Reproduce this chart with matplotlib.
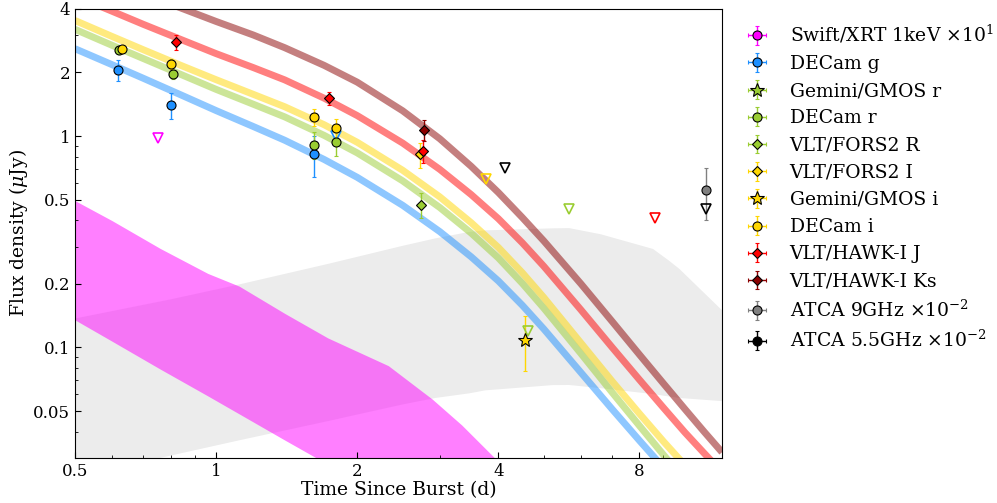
import numpy as np
import matplotlib
matplotlib.use("Agg")
import matplotlib.pyplot as plt
from matplotlib.ticker import NullFormatter

plt.rcParams['font.family'] = ['DejaVu Serif']
plt.rcParams['mathtext.fontset'] = 'dejavuserif'
plt.rcParams['font.size'] = 12

# ---- detections (t in days, flux in uJy, 1-sigma error) ----
decam_g_t = [0.618, 0.80, 1.62]
decam_g_f = [2.06, 1.40, 0.82]
decam_g_e = [0.23, 0.19, 0.18]

decam_r_t = [0.62, 0.81, 1.62, 1.80]
decam_r_f = [2.54, 1.96, 0.91, 0.937]
decam_r_e = [0.10, 0.10, 0.13, 0.13]

decam_i_t = [0.63, 0.80, 1.62, 1.80]
decam_i_f = [2.58, 2.19, 1.23, 1.095]
decam_i_e = [0.10, 0.12, 0.11, 0.11]

fors_R_t, fors_R_f, fors_R_e = [2.74], [0.473], [0.065]
fors_I_t, fors_I_f, fors_I_e = [2.72], [0.82], [0.11]
gmos_i_t, gmos_i_f, gmos_i_e = [4.57], [0.109], [0.032]

hawk_J_t = [0.82, 1.74, 2.76]
hawk_J_f = [2.78, 1.51, 0.852]
hawk_J_e = [0.22, 0.10, 0.11]

hawk_K_t, hawk_K_f, hawk_K_e = [2.78], [1.07], [0.12]
atca9_t, atca9_f, atca9_e = [11.1], [0.555], [0.155]
t_err = 0.01

# ---- upper limits ----
ul_swift_t, ul_swift_f = [0.75], [0.98]
ul_g_t, ul_g_f = [1.80], [1.0]
ul_i_t, ul_i_f = [3.76], [0.625]
ul_gmos_r_t, ul_gmos_r_f = [4.62], [0.12]
ul_r_t, ul_r_f = [5.67], [0.45]
ul_J_t, ul_J_f = [8.65], [0.409]
ul_atca55_t, ul_atca55_f = [4.13, 11.1], [0.705, 0.454]

# ---- kilonova model curves ----
model_t = [0.5, 0.6, 0.7, 0.85, 1.0, 1.2, 1.4, 1.7, 2.0, 2.5, 3.0, 3.5, 4.0, 4.5, 5.0,
           6.0, 7.0, 8.0, 9.0, 10, 11, 12]
blue_f = [2.59, 2.176, 1.875, 1.550, 1.320, 1.110, 0.956, 0.775, 0.638, 0.4704, 0.3532,
          0.2684, 0.2064, 0.1583, 0.1223, 0.0761, 0.05097, 0.03626, 0.02701, 0.02086,
          0.0166, 0.01353]
green_f = [3.199, 2.687, 2.325, 1.9375, 1.663, 1.415, 1.233, 1.0075, 0.8326, 0.6139,
           0.4592, 0.3476, 0.2652, 0.2010, 0.1535, 0.0936, 0.06116, 0.0426, 0.03106,
           0.02357, 0.01851, 0.01488]
yellow_f = [3.522, 2.959, 2.559, 2.139, 1.848, 1.576, 1.377, 1.1315, 0.9347, 0.6891,
            0.5157, 0.3892, 0.2972, 0.2256, 0.1724, 0.1050, 0.06906, 0.04859, 0.03592,
            0.02774, 0.02208, 0.0180]
red_f = [4.610, 3.895, 3.375, 2.837, 2.455, 2.109, 1.845, 1.511, 1.250, 0.9267, 0.6958,
         0.5287, 0.4066, 0.3126, 0.2422, 0.1507, 0.0999, 0.07034, 0.05186, 0.03963,
         0.03154, 0.02571]
brown_f = [6.346, 5.396, 4.725, 3.999, 3.485, 3.008, 2.62, 2.16, 1.799, 1.317, 0.9713,
           0.7193, 0.5408, 0.4116, 0.3192, 0.2001, 0.1325, 0.09246, 0.06753, 0.05111,
           0.03984, 0.03193]

# ---- X-ray (magenta) and radio (grey) model bands ----
xr_t = [0.5, 0.6, 0.76, 0.96, 1.12, 1.4, 1.73, 2.33, 2.89, 3.34, 3.93, 4.5]
xr_hi = [0.495, 0.398, 0.294, 0.224, 0.195, 0.145, 0.111, 0.082, 0.057, 0.043, 0.030, 0.022]
xr_lo = [0.135, 0.107, 0.079, 0.059, 0.0485, 0.0365, 0.028, 0.020, 0.015, 0.012, 0.010, 0.008]
rad_t = [0.5, 0.8, 1.12, 1.73, 2.49, 2.93, 3.46, 3.74, 5.2, 5.65, 6.6, 8.53, 9.2, 9.7, 12.0]
rad_hi = [0.138, 0.17, 0.20, 0.25, 0.304, 0.33, 0.354, 0.36, 0.368, 0.369, 0.345, 0.294, 0.26, 0.237, 0.15]
rad_lo = [0.0246, 0.031, 0.0366, 0.0451, 0.054, 0.058, 0.061, 0.063, 0.0667, 0.0668, 0.0645, 0.0605, 0.059, 0.058, 0.056]

fig = plt.figure(figsize=(9.97, 5.03), dpi=100)
ax = fig.add_axes([0.0752, 0.0895, 0.649, 0.893])

ax.fill_between(rad_t, rad_lo, rad_hi, color='grey', alpha=0.15, lw=0)
ax.fill_between(xr_t, xr_lo, xr_hi, color='magenta', alpha=0.5, lw=0)

for ff, c in [(blue_f, 'dodgerblue'), (green_f, 'yellowgreen'), (yellow_f, 'gold'),
              (red_f, 'red'), (brown_f, 'darkred')]:
    ax.plot(model_t, ff, color=c, lw=5, alpha=0.5, solid_capstyle='butt',
            solid_joinstyle='round')


def det(t, f, e, color, marker, label, ms=6.5):
    if len(t) == 0:
        t, f, e = [np.nan], [np.nan], [np.nan]
    ax.errorbar(t, f, yerr=e, xerr=t_err, fmt=marker, color=color, mfc=color,
                mec='k', ms=ms, mew=0.8, elinewidth=1, capsize=1.5, label=label)


det([], [], [], 'magenta', 'o', r'Swift/XRT 1keV $\times10^{1}$')
det(decam_g_t, decam_g_f, decam_g_e, 'dodgerblue', 'o', 'DECam g')
det([], [], [], 'yellowgreen', '*', 'Gemini/GMOS r', ms=10)
det(decam_r_t, decam_r_f, decam_r_e, 'yellowgreen', 'o', 'DECam r')
det(fors_R_t, fors_R_f, fors_R_e, 'yellowgreen', 'D', 'VLT/FORS2 R', ms=5.5)
det(fors_I_t, fors_I_f, fors_I_e, 'gold', 'D', 'VLT/FORS2 I', ms=5.5)
det(gmos_i_t, gmos_i_f, gmos_i_e, 'gold', '*', 'Gemini/GMOS i', ms=10)
det(decam_i_t, decam_i_f, decam_i_e, 'gold', 'o', 'DECam i')
det(hawk_J_t, hawk_J_f, hawk_J_e, 'red', 'D', 'VLT/HAWK-I J', ms=5.5)
det(hawk_K_t, hawk_K_f, hawk_K_e, 'darkred', 'D', 'VLT/HAWK-I Ks', ms=5.5)
det(atca9_t, atca9_f, atca9_e, 'grey', 'o', r'ATCA 9GHz $\times10^{-2}$')
det([], [], [], 'black', 'o', r'ATCA 5.5GHz $\times10^{-2}$')

for tt, ff, c in [(ul_swift_t, ul_swift_f, 'magenta'), (ul_g_t, ul_g_f, 'dodgerblue'),
                  (ul_i_t, ul_i_f, 'gold'), (ul_gmos_r_t, ul_gmos_r_f, 'yellowgreen'),
                  (ul_r_t, ul_r_f, 'yellowgreen'), (ul_J_t, ul_J_f, 'red'),
                  (ul_atca55_t, ul_atca55_f, 'black')]:
    ax.plot(tt, ff, 'v', mfc='none', mec=c, ms=7, mew=1.2)

ax.set_xscale('log')
ax.set_yscale('log')
ax.set_xlim(0.5, 12)
ax.set_ylim(0.03, 4)
ax.set_xticks([0.5, 1, 2, 4, 8])
ax.set_xticklabels(['0.5', '1', '2', '4', '8'])
ax.set_yticks([0.05, 0.1, 0.2, 0.5, 1, 2, 4])
ax.set_yticklabels(['0.05', '0.1', '0.2', '0.5', '1', '2', '4'])
ax.xaxis.set_minor_formatter(NullFormatter())
ax.yaxis.set_minor_formatter(NullFormatter())
ax.tick_params(which='both', direction='in', top=False, right=False)
ax.tick_params(which='major', length=4)
ax.tick_params(which='minor', length=2)

ax.set_xlabel('Time Since Burst (d)', fontsize=13.5, labelpad=1)
ax.set_ylabel(r'Flux density ($\mu$Jy)', fontsize=13.5, labelpad=2)

fig.legend(loc='upper left', bbox_to_anchor=(0.733, 0.968), frameon=False,
           borderaxespad=0, fontsize=13.5, labelspacing=0.49, handletextpad=0.74)

fig.savefig('out.png', dpi=100)
